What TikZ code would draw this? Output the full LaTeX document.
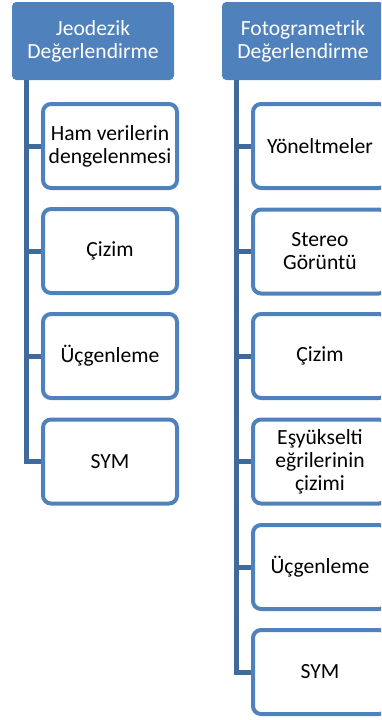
\documentclass[tikz,border=0pt]{standalone}
\usepackage{fontspec}
\setmainfont{Carlito}
\usetikzlibrary{positioning}

\definecolor{hdrblue}{HTML}{4F81BD}
\definecolor{trunkblue}{HTML}{3E6A9C}

\begin{document}
\begin{tikzpicture}[
    x=1pt, y=-1pt,
    font=\fontsize{21.6}{23}\selectfont
  ]

  % Styles
  \tikzstyle{header}=[draw=hdrblue, fill=hdrblue, rounded corners=4pt, minimum width=161pt, minimum height=77pt, align=center, text=white, line width=1pt]
  \tikzstyle{item}=[draw=hdrblue, fill=white, line width=4pt, rounded corners=8pt, minimum width=134pt, minimum height=84pt, align=center, text=black]
  \tikzstyle{trunk}=[draw=trunkblue, line width=5pt]

  \clip (0,0) rectangle (381,720);

  % Jeodezik column
  \node[header] (jeo) at (93,41) {Jeodezik\\Değerlendirme};
  \node[item] (j1) at (110,146) {Ham verilerin\\dengelenmesi};
  \node[item] (j2) at (110,251) {Çizim};
  \node[item] (j3) at (110,356) {Üçgenleme};
  \node[item] (j4) at (110,461.5) {SYM};

  % Fotogrametrik column
  \node[header] (foto) at (303,41) {Fotogrametrik\\Değerlendirme};
  \node[item] (f1) at (320,146) {Yöneltmeler};
  \node[item] (f2) at (320,251.5) {Stereo\\Görüntü};
  \node[item] (f3) at (320,356) {Çizim};
  \node[item] (f4) at (320,461.5) {Eşyükselti\\eğrilerinin\\çizimi};
  \node[item] (f5) at (320,567) {Üçgenleme};
  \node[item] (f6) at (320,672) {SYM};

  % Trunk lines from headers to items
  \draw[trunk] ([xshift=-66.5pt]jeo.south) |- (j1.west);
  \draw[trunk] ([xshift=-66.5pt]jeo.south) |- (j2.west);
  \draw[trunk] ([xshift=-66.5pt]jeo.south) |- (j3.west);
  \draw[trunk] ([xshift=-66.5pt]jeo.south) |- (j4.west);

  \draw[trunk] ([xshift=-66.3pt]foto.south) |- (f1.west);
  \draw[trunk] ([xshift=-66.3pt]foto.south) |- (f2.west);
  \draw[trunk] ([xshift=-66.3pt]foto.south) |- (f3.west);
  \draw[trunk] ([xshift=-66.3pt]foto.south) |- (f4.west);
  \draw[trunk] ([xshift=-66.3pt]foto.south) |- (f5.west);
  \draw[trunk] ([xshift=-66.3pt]foto.south) |- (f6.west);

\end{tikzpicture}
\end{document}
